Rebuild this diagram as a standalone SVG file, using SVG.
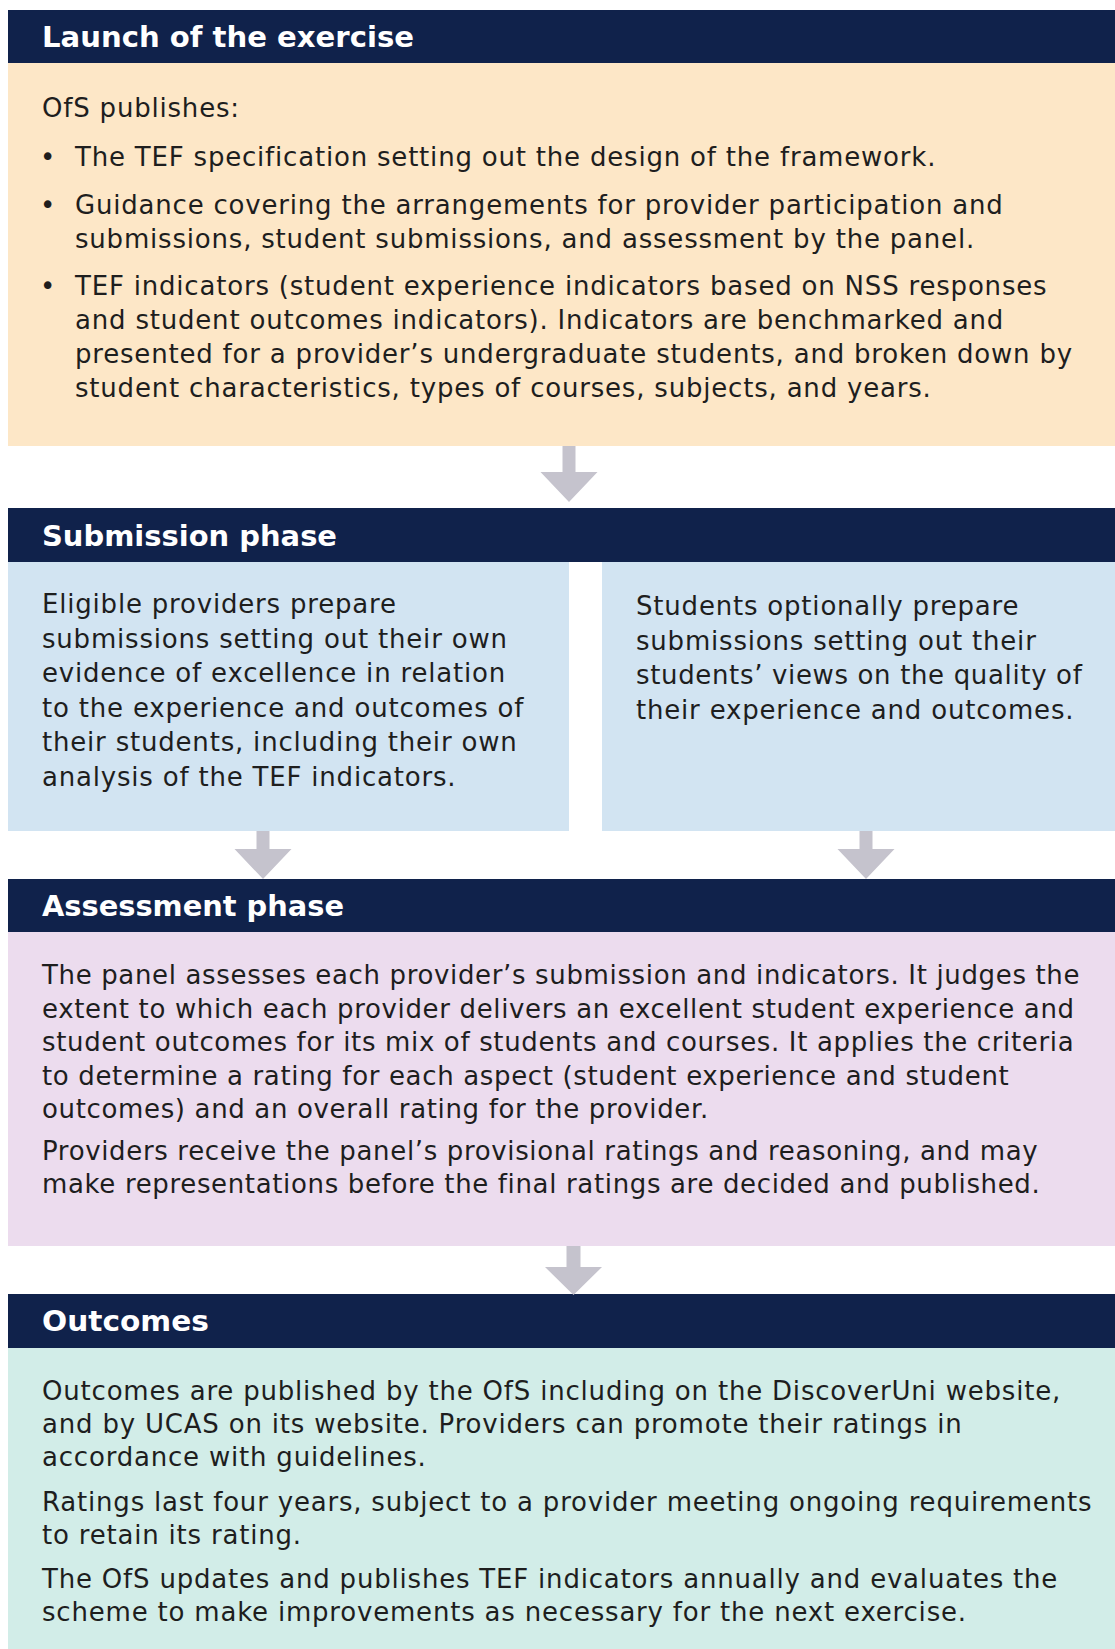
<svg xmlns="http://www.w3.org/2000/svg" width="1115" height="1649" viewBox="0 0 1115 1649">
<style>
.bar{fill:#10224b}
.title{font-family:"DejaVu Sans","Liberation Sans",sans-serif;font-weight:bold;font-size:29px;fill:#ffffff}
.body{font-family:"DejaVu Sans","Liberation Sans",sans-serif;font-size:26px;letter-spacing:0.8px;fill:#1e1e1e}
.tight{letter-spacing:0.65px}
.orange{fill:#fde7c7}
.blue{fill:#d2e4f2}
.pink{fill:#ecdcee}
.teal{fill:#d2ede8}
.arrow{fill:#c5c3cd}
</style>
<rect width="1115" height="1649" fill="#ffffff"/>
<g id="launch">
<rect class="bar" x="8" y="10" width="1107" height="53"/>
<text class="title" x="42" y="47" textLength="372" lengthAdjust="spacingAndGlyphs">Launch of the exercise</text>
<rect class="orange" x="8" y="63" width="1107" height="383"/>
<text class="body" x="42" y="117">OfS publishes:</text>
<text class="body" x="48" y="166" text-anchor="middle">•</text>
<text class="body" x="48" y="214" text-anchor="middle">•</text>
<text class="body" x="48" y="295" text-anchor="middle">•</text>
<text class="body" x="75" y="166">The TEF specification setting out the design of the framework.</text>
<text class="body" x="75" y="214">Guidance covering the arrangements for provider participation and</text>
<text class="body" x="75" y="248">submissions, student submissions, and assessment by the panel.</text>
<text class="body" x="75" y="295">TEF indicators (student experience indicators based on NSS responses</text>
<text class="body" x="75" y="329">and student outcomes indicators). Indicators are benchmarked and</text>
<text class="body" x="75" y="363">presented for a provider’s undergraduate students, and broken down by</text>
<text class="body" x="75" y="397">student characteristics, types of courses, subjects, and years.</text>
</g>
<g id="submission-phase">
<rect class="bar" x="8" y="508" width="1107" height="54"/>
<text class="title" x="42" y="546" textLength="295" lengthAdjust="spacingAndGlyphs">Submission phase</text>
</g>
<g id="provider-submission">
<rect class="blue" x="8" y="562" width="561" height="269"/>
<text class="body" x="42" y="613">Eligible providers prepare</text>
<text class="body" x="42" y="647.5">submissions setting out their own</text>
<text class="body" x="42" y="682">evidence of excellence in relation</text>
<text class="body" x="42" y="716.5">to the experience and outcomes of</text>
<text class="body" x="42" y="751">their students, including their own</text>
<text class="body" x="42" y="785.5">analysis of the TEF indicators.</text>
</g>
<g id="student-submission">
<rect class="blue" x="602" y="562" width="513" height="269"/>
<text class="body" x="636" y="615">Students optionally prepare</text>
<text class="body" x="636" y="649.5">submissions setting out their</text>
<text class="body tight" x="636" y="684">students’ views on the quality of</text>
<text class="body" x="636" y="718.5">their experience and outcomes.</text>
</g>
<g id="assessment-phase">
<rect class="bar" x="8" y="879" width="1107" height="53"/>
<text class="title" x="42" y="916" textLength="302" lengthAdjust="spacingAndGlyphs">Assessment phase</text>
<rect class="pink" x="8" y="932" width="1107" height="314"/>
<text class="body tight" x="42" y="984">The panel assesses each provider’s submission and indicators. It judges the</text>
<text class="body tight" x="42" y="1017.5">extent to which each provider delivers an excellent student experience and</text>
<text class="body tight" x="42" y="1051">student outcomes for its mix of students and courses. It applies the criteria</text>
<text class="body tight" x="42" y="1084.5">to determine a rating for each aspect (student experience and student</text>
<text class="body tight" x="42" y="1118">outcomes) and an overall rating for the provider.</text>
<text class="body tight" x="42" y="1160">Providers receive the panel’s provisional ratings and reasoning, and may</text>
<text class="body tight" x="42" y="1193">make representations before the final ratings are decided and published.</text>
</g>
<g id="outcomes">
<rect class="bar" x="8" y="1294" width="1107" height="54"/>
<text class="title" x="42" y="1331" textLength="167" lengthAdjust="spacingAndGlyphs">Outcomes</text>
<rect class="teal" x="8" y="1348" width="1107" height="301"/>
<text class="body" x="42" y="1400">Outcomes are published by the OfS including on the DiscoverUni website,</text>
<text class="body" x="42" y="1433">and by UCAS on its website. Providers can promote their ratings in</text>
<text class="body" x="42" y="1466">accordance with guidelines.</text>
<text class="body" x="42" y="1511">Ratings last four years, subject to a provider meeting ongoing requirements</text>
<text class="body" x="42" y="1544">to retain its rating.</text>
<text class="body" x="42" y="1588">The OfS updates and publishes TEF indicators annually and evaluates the</text>
<text class="body" x="42" y="1621">scheme to make improvements as necessary for the next exercise.</text>
</g>
<g id="connectors">
<polygon class="arrow" points="562.5,446 575.5,446 575.5,472 597.5,472 569,502 540.5,472 562.5,472"/>
<polygon class="arrow" points="256.5,831 269.5,831 269.5,849 291.5,849 263,879 234.5,849 256.5,849"/>
<polygon class="arrow" points="859.5,831 872.5,831 872.5,849 894.5,849 866,879 837.5,849 859.5,849"/>
<polygon class="arrow" points="566.5,1246 580.5,1246 580.5,1267 602,1267 573.5,1295 545,1267 566.5,1267"/>
</g>
</svg>
